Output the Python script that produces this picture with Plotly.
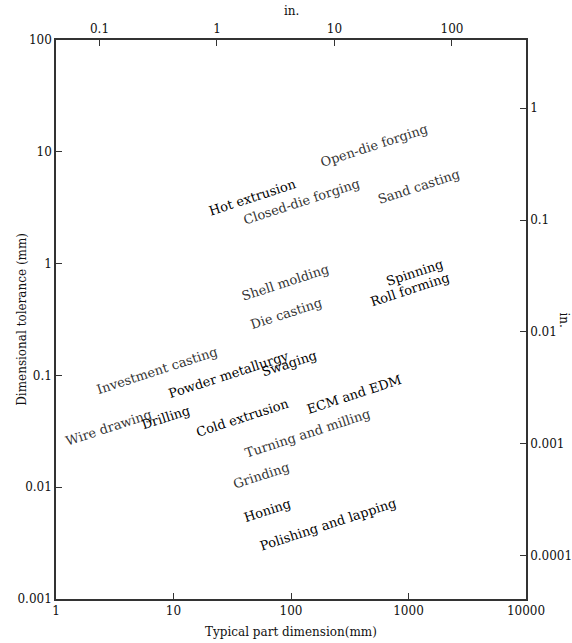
import math
import plotly.graph_objects as go

# ---- data -------------------------------------------------------------
processes = [
    "Open-die forging", "Hot extrusion", "Closed-die forging", "Sand casting",
    "Shell molding", "Spinning", "Roll forming", "Die casting",
    "Investment casting", "Powder metallurgy", "Swaging", "Wire drawing",
    "Drilling", "Cold extrusion", "ECM and EDM", "Turning and milling",
    "Grinding", "Honing", "Polishing and lapping",
]
part_dim_mm = [508, 46.6, 124, 1228, 89, 1135, 1030, 90.6, 7.24, 29.7, 96.2,
               2.83, 8.63, 39.0, 344, 137, 55.6, 62.5, 205]
tolerance_mm = [11.5, 3.94, 3.56, 4.94, 0.671, 0.841, 0.581, 0.361, 0.1117,
                0.1009, 0.1265, 0.0339, 0.0416, 0.0424, 0.0668, 0.0305,
                0.01285, 0.00625, 0.0046]
heavy = ["Hot extrusion", "Spinning", "Roll forming", "Powder metallurgy",
         "Swaging", "Drilling", "Cold extrusion", "ECM and EDM", "Honing",
         "Polishing and lapping"]

x_ticks_mm = [1, 10, 100, 1000, 10000]
y_ticks_mm = [100, 10, 1, 0.1, 0.01, 0.001]
x_ticks_in = [0.1, 1, 10, 100]
y_ticks_in = [1, 0.1, 0.01, 0.001, 0.0001]

FONT = "DejaVu Serif"
LINE = "#333333"

fig = go.Figure()
fig.add_trace(go.Scatter(x=[None], y=[None], xaxis="x", yaxis="y",
                         showlegend=False, hoverinfo="skip"))
fig.add_trace(go.Scatter(x=[None], y=[None], xaxis="x2", yaxis="y2",
                         showlegend=False, hoverinfo="skip"))

annotations = []
for name, xv, yv in zip(processes, part_dim_mm, tolerance_mm):
    dark = name in heavy
    annotations.append(dict(
        x=math.log10(xv), y=math.log10(yv), xref="x", yref="y",
        text=name, showarrow=False, textangle=-18,
        font=dict(family=FONT, size=13, color="#000000" if dark else "#333333"),
    ))

annotations += [
    dict(x=0.5, y=-0.043, xref="paper", yref="paper", yanchor="top",
         text="Typical part dimension(mm)", showarrow=False,
         font=dict(family=FONT, size=12, color="#111")),
    dict(x=-0.093, y=0.5, xref="paper", yref="paper", textangle=-90,
         text="Dimensional tolerance (mm)", showarrow=False,
         font=dict(family=FONT, size=12, color="#111")),
    dict(x=0.5, y=1.035, xref="paper", yref="paper", yanchor="bottom",
         text="in.", showarrow=False,
         font=dict(family=FONT, size=12, color="#111")),
    dict(x=1.1, y=0.5, xref="paper", yref="paper", textangle=90,
         text="in.", showarrow=False,
         font=dict(family=FONT, size=12, color="#111")),
]

tickfont = dict(family=FONT, size=12, color="#111")
common = dict(type="log", showgrid=False, zeroline=False, showline=True,
              linecolor=LINE, linewidth=1.5, ticks="inside", ticklen=6,
              tickcolor=LINE, tickwidth=1, tickfont=tickfont, automargin=False)

fig.update_layout(
    width=572, height=643,
    margin=dict(l=56, r=46, t=40, b=44, autoexpand=False),
    paper_bgcolor="white", plot_bgcolor="white",
    showlegend=False,
    xaxis=dict(range=[0, 4], tickvals=x_ticks_mm,
               ticktext=[str(v) for v in x_ticks_mm], side="bottom", **common),
    yaxis=dict(range=[-3, 2], tickvals=y_ticks_mm,
               ticktext=[str(v) for v in y_ticks_mm], side="left", **common),
    xaxis2=dict(range=[-1.37, 2.63], tickvals=x_ticks_in,
                ticktext=[str(v) for v in x_ticks_in], side="top",
                overlaying="x", **common),
    yaxis2=dict(range=[-4.39, 0.61], tickvals=y_ticks_in,
                ticktext=[str(v) for v in y_ticks_in], side="right",
                overlaying="y", ticklabelstandoff=0, **common),
    annotations=annotations,
)

fig.write_html(
    "out.html",
    config={"displayModeBar": False},
    post_script="document.body.style.margin='0';document.body.style.overflow='hidden';",
)
